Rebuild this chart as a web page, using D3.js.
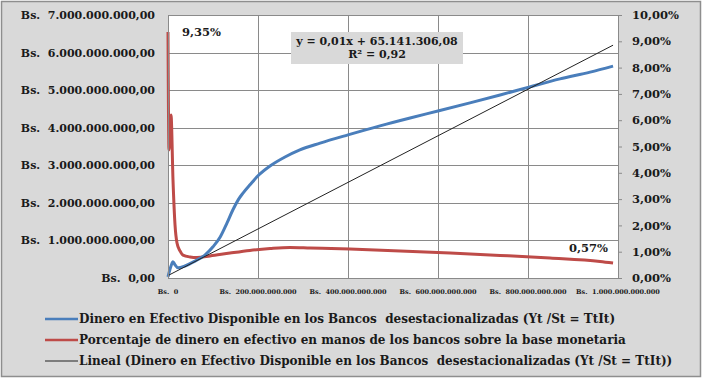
<!DOCTYPE html>
<html>
<head>
<meta charset="utf-8">
<script src="https://cdn.jsdelivr.net/npm/d3@7"></script>
<style>
    body { margin: 0; background: #fff; }
    text { font-family: "DejaVu Serif", serif; font-weight: bold; fill: #1a1a1a; white-space: pre; }
</style>
</head>
<body>
<div id="chart"></div>
<script>
// blue series: dinero en efectivo disponible (x en Bs., y en Bs.)
const cashX = [0, 6.7e9, 11.1e9, 15.6e9, 22.2e9, 37.8e9, 60e9, 82e9, 100e9, 116e9, 131e9, 144e9, 156e9, 166.7e9, 182.2e9,
    200e9, 226.7e9, 260e9, 293e9, 338e9, 400e9, 471e9, 538e9, 602e9, 671e9, 738e9, 802e9, 871e9, 938e9, 989e9];
const cashY = [0.03e9, 0.32e9, 0.43e9, 0.35e9, 0.27e9, 0.32e9, 0.45e9, 0.61e9, 0.83e9, 1.09e9, 1.46e9, 1.81e9, 2.08e9, 2.26e9, 2.48e9,
    2.72e9, 2.98e9, 3.22e9, 3.41e9, 3.59e9, 3.81e9, 4.05e9, 4.26e9, 4.45e9, 4.66e9, 4.87e9, 5.08e9, 5.30e9, 5.48e9, 5.64e9];

// red series: porcentaje sobre la base monetaria (eje derecho)
const pctX = [0, 2.2e9, 6.7e9, 11.1e9, 15.6e9, 20e9, 26.7e9, 33.3e9, 48.9e9, 64.4e9, 93.3e9, 137.8e9, 182e9, 227e9,
    271e9, 316e9, 404e9, 516e9, 627e9, 738e9, 849e9, 960e9, 989e9];
const pctY = [0.0935, 0.0487, 0.0620, 0.0373, 0.0202, 0.0133, 0.0103, 0.0087, 0.0080, 0.0078, 0.0084, 0.0095, 0.0105, 0.0112,
    0.0116, 0.0114, 0.0110, 0.0103, 0.0095, 0.0086, 0.0076, 0.0063, 0.0057];

// linear trend of the blue series
const trendSlope = 0.0062;
const trendIntercept = 65141306.08;
const trendText = ["y = 0,01x + 65.141.306,08", "R\u00b2 = 0,92"];

const leftTicks = [0, 1e9, 2e9, 3e9, 4e9, 5e9, 6e9, 7e9];
const rightTicks = [0, 0.01, 0.02, 0.03, 0.04, 0.05, 0.06, 0.07, 0.08, 0.09, 0.10];
const xTicks = [0, 2e11, 4e11, 6e11, 8e11, 1e12];

const legendItems = [
    { label: "Dinero en Efectivo Disponible en los Bancos  desestacionalizadas (Yt /St = TtIt)", color: "#4a7ebb", width: 2.5 },
    { label: "Porcentaje de dinero en efectivo en manos de los bancos sobre la base monetaria", color: "#be4b48", width: 2.5 },
    { label: "Lineal (Dinero en Efectivo Disponible en los Bancos  desestacionalizadas (Yt /St = TtIt))", color: "#222", width: 1.2 }
];

const width = 703, height = 380;
const plot = { left: 168, right: 618, top: 15, bottom: 278 };

// es-VE style number formats
const esLocale = d3.formatLocale({ decimal: ",", thousands: ".", grouping: [3], currency: ["Bs. ", ""] });
const fmtMoney = esLocale.format(",.2f");
const fmtInt = esLocale.format(",.0f");
const fmtPct = esLocale.format(".2%");

const svg = d3.select("#chart").append("svg")
    .attr("width", width)
    .attr("height", height);

// chart area
svg.append("rect")
    .attr("x", 1.5).attr("y", 1.5)
    .attr("width", width - 4).attr("height", height - 5)
    .attr("fill", "#d9d9d9")
    .attr("stroke", "#8e8e8e")
    .attr("stroke-width", 1.5);

const x = d3.scaleLinear().domain([0, 1e12]).range([plot.left, plot.right]);
const yL = d3.scaleLinear().domain([0, 7e9]).range([plot.bottom, plot.top]);
const yR = d3.scaleLinear().domain([0, 0.10]).range([plot.bottom, plot.top]);

svg.append("rect")
    .attr("x", plot.left).attr("y", plot.top)
    .attr("width", plot.right - plot.left).attr("height", plot.bottom - plot.top)
    .attr("fill", "white");

// grid
svg.append("g").selectAll("line")
    .data(leftTicks)
    .join("line")
    .attr("x1", plot.left).attr("x2", plot.right)
    .attr("y1", d => Math.round(yL(d)) + 0.5).attr("y2", d => Math.round(yL(d)) + 0.5)
    .attr("stroke", "#8a8a8a");

svg.append("g").selectAll("line")
    .data(xTicks)
    .join("line")
    .attr("x1", d => Math.round(x(d)) + 0.5).attr("x2", d => Math.round(x(d)) + 0.5)
    .attr("y1", plot.top).attr("y2", plot.bottom)
    .attr("stroke", "#8a8a8a");

// left axis labels
svg.append("g").selectAll("text")
    .data(leftTicks)
    .join("text")
    .attr("x", 155)
    .attr("y", d => yL(d) + 4)
    .attr("text-anchor", "end")
    .style("font-size", "11px")
    .text(d => "Bs.  " + fmtMoney(d));

// right axis
const rightAxis = svg.append("g")
    .attr("transform", `translate(${plot.right},0)`)
    .call(d3.axisRight(yR).tickValues(rightTicks).tickSize(4).tickFormat(fmtPct));
rightAxis.select(".domain").attr("stroke", "#8a8a8a");
rightAxis.selectAll(".tick line").attr("stroke", "#8a8a8a");
rightAxis.selectAll(".tick text")
    .attr("x", 14)
    .attr("fill", "#1a1a1a")
    .style("font-family", "DejaVu Serif")
    .style("font-weight", "bold")
    .style("font-size", "11.5px");

// bottom axis labels
svg.append("g").selectAll("text")
    .data(xTicks)
    .join("text")
    .attr("x", d => x(d))
    .attr("y", 294)
    .attr("text-anchor", "middle")
    .style("font-size", "6.5px")
    .text(d => "Bs.  " + fmtInt(d));

// series
const cashData = cashX.map((d, i) => [d, cashY[i]]);
const pctData = pctX.map((d, i) => [d, pctY[i]]);

svg.append("path")
    .datum(pctData)
    .attr("fill", "none")
    .attr("stroke", "#be4b48")
    .attr("stroke-width", 3)
    .attr("d", d3.line().x(d => x(d[0])).y(d => yR(d[1])).curve(d3.curveMonotoneX));

svg.append("path")
    .datum(cashData)
    .attr("fill", "none")
    .attr("stroke", "#4a7ebb")
    .attr("stroke-width", 3)
    .attr("d", d3.line().x(d => x(d[0])).y(d => yL(d[1])).curve(d3.curveMonotoneX));

const xEnd = d3.max(cashX);
svg.append("line")
    .attr("x1", x(0)).attr("y1", yL(trendIntercept))
    .attr("x2", x(xEnd)).attr("y2", yL(trendSlope * xEnd + trendIntercept))
    .attr("stroke", "#222")
    .attr("stroke-width", 1);

// plot border
svg.append("rect")
    .attr("x", plot.left + 0.5).attr("y", plot.top + 0.5)
    .attr("width", plot.right - plot.left).attr("height", plot.bottom - plot.top)
    .attr("fill", "none")
    .attr("stroke", "#8a8a8a");

// data labels
const first = pctData[0], last = pctData[pctData.length - 1];
svg.append("text")
    .attr("x", x(first[0]) + 14).attr("y", yR(first[1]) + 4)
    .style("font-size", "11.5px")
    .text(fmtPct(first[1]));
svg.append("text")
    .attr("x", x(last[0]) - 5).attr("y", yR(last[1]) - 11)
    .attr("text-anchor", "end")
    .style("font-size", "11.5px")
    .text(fmtPct(last[1]));

// trend equation box
svg.append("rect")
    .attr("x", 291).attr("y", 32)
    .attr("width", 172).attr("height", 32)
    .attr("fill", "#d9d9d9");
svg.append("g").selectAll("text")
    .data(trendText)
    .join("text")
    .attr("x", 377)
    .attr("y", (d, i) => 45 + i * 13)
    .attr("text-anchor", "middle")
    .style("font-size", "11px")
    .text(d => d);

// legend
const legend = svg.append("g").selectAll("g")
    .data(legendItems)
    .join("g")
    .attr("transform", (d, i) => `translate(45,${319 + i * 21})`);
legend.append("line")
    .attr("x1", 0).attr("x2", 33)
    .attr("stroke", d => d.color)
    .attr("stroke-width", d => d.width);
legend.append("text")
    .attr("x", 34).attr("y", 4)
    .style("font-size", "12px")
    .text(d => d.label);
</script>
</body>
</html>
